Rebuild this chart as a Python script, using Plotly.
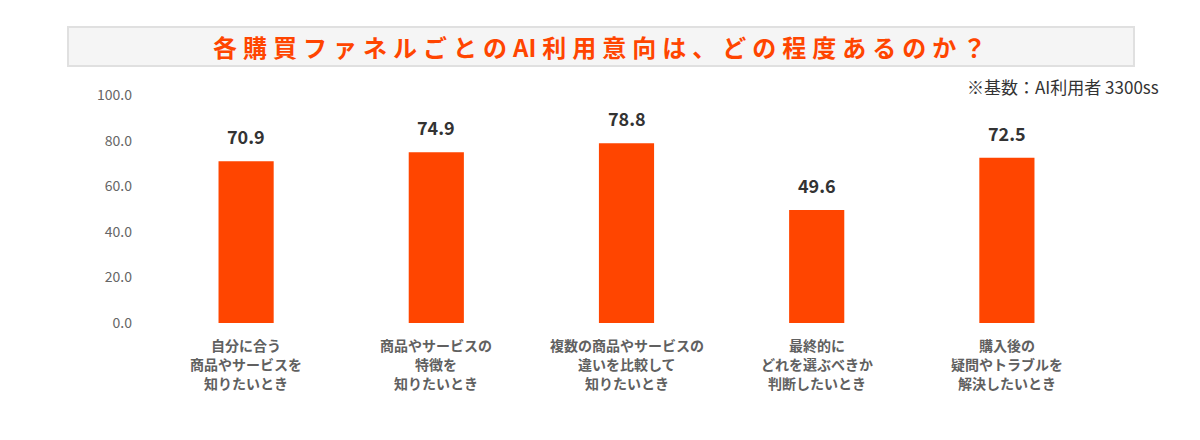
import plotly.graph_objects as go

# ========== データ ==========
categories = [
    ['自分に合う', '商品やサービスを', '知りたいとき'],
    ['商品やサービスの', '特徴を', '知りたいとき'],
    ['複数の商品やサービスの', '違いを比較して', '知りたいとき'],
    ['最終的に', 'どれを選ぶべきか', '判断したいとき'],
    ['購入後の', '疑問やトラブルを', '解決したいとき'],
]
values = [70.9, 74.9, 78.8, 49.6, 72.5]
y_ticks = [0, 20, 40, 60, 80, 100]

TITLE = '各購買ファネルごとのAI利用意向は、どの程度あるのか？'
NOTE = '※基数：AI利用者 3300ss'
FONT = 'Noto Sans CJK JP'
BAR_COLOR = '#ff4500'

W, H = 1200, 440
# ページ余白(8px)を考慮したプロット領域
PL, PT, PW, PH = 151, 95, 951, 228


def px(x):
    return (x - PL) / PW


def py(y):
    return (PT + PH - y) / PH


cat_keys = [''.join(c) for c in categories]

fig = go.Figure()
fig.add_trace(go.Bar(
    x=cat_keys, y=values,
    marker=dict(color=BAR_COLOR, line=dict(width=0)),
    hoverinfo='skip',
))

# 数値ラベル
for k, v in zip(cat_keys, values):
    fig.add_annotation(x=k, y=v, xref='x', yref='y', text=f'<b>{v:.1f}</b>',
                       showarrow=False, yanchor='middle', yshift=25,
                       font=dict(family=FONT, size=18, color='#333333'))

# カテゴリラベル（行ごと）
for k, lines in zip(cat_keys, categories):
    for i, line in enumerate(lines):
        fig.add_annotation(x=k, y=py(345 + 19 * i), xref='x', yref='paper',
                           text=f'<b>{line}</b>', showarrow=False,
                           xanchor='center', yanchor='middle',
                           font=dict(family=FONT, size=14, color='#606060'))

# タイトル枠
fig.add_shape(type='rect', xref='paper', yref='paper',
              x0=px(68), x1=px(1134), y0=py(66), y1=py(27),
              fillcolor='#f5f5f5', line=dict(color='#e0e0e0', width=2), layer='below')

# 字間を広げる（AIは詰める）
spaced_title = '\u2005'.join(TITLE).replace('A\u2005I', 'AI')
fig.add_annotation(text=f'<b>{spaced_title}</b>', xref='paper', yref='paper',
                   x=px(599), y=py(46),
                   showarrow=False, xanchor='center', yanchor='middle',
                   font=dict(family=FONT, size=24, color='#ff4500'))

fig.add_annotation(text=NOTE, xref='paper', yref='paper',
                   x=px(1161), y=py(87),
                   showarrow=False, xanchor='right', yanchor='middle',
                   font=dict(family=FONT, size=17, color='#333333'))

fig.update_layout(
    width=W, height=H,
    margin=dict(l=PL - 8, r=W - (PL - 8) - PW, t=PT - 8, b=H - (PT - 8) - PH),
    paper_bgcolor='white', plot_bgcolor='white',
    bargap=0.71,
    showlegend=False,
    font=dict(family=FONT),
    xaxis=dict(
        showgrid=False, showline=False, zeroline=False, ticks='',
        showticklabels=False, fixedrange=True,
    ),
    yaxis=dict(
        range=[0, 100], tickvals=y_ticks,
        ticktext=[f'{t:.1f}' for t in y_ticks],
        showgrid=False, showline=False, zeroline=False, ticks='',
        tickfont=dict(family=FONT, size=14, color='#666666'),
        ticklabelstandoff=18,
        fixedrange=True,
    ),
)

fig.write_html('out.html', config={'displayModeBar': False})
